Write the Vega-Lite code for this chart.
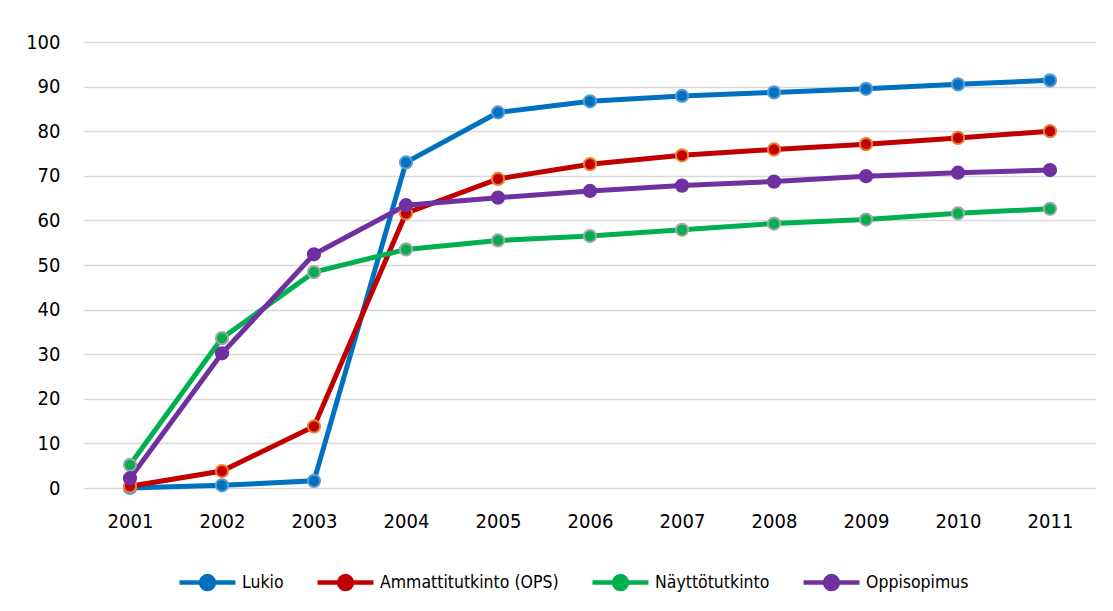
{
  "$schema": "https://vega.github.io/schema/vega-lite/v6.json",
  "width": 1012,
  "height": 446,
  "autosize": "none",
  "padding": {"left": 84, "top": 42, "right": 17, "bottom": 123},
  "background": "white",
  "config": {
    "view": {"stroke": null},
    "font": "DejaVu Sans Condensed",
    "axis": {"labelFont": "DejaVu Sans Condensed", "labelColor": "#000000"},
    "legend": {"labelFont": "DejaVu Sans Condensed"}
  },
  "data": {
    "values": [
      {"year": "2001", "series": "Lukio", "value": 0.0},
      {"year": "2002", "series": "Lukio", "value": 0.6},
      {"year": "2003", "series": "Lukio", "value": 1.6},
      {"year": "2004", "series": "Lukio", "value": 73.0},
      {"year": "2005", "series": "Lukio", "value": 84.2},
      {"year": "2006", "series": "Lukio", "value": 86.7},
      {"year": "2007", "series": "Lukio", "value": 87.9},
      {"year": "2008", "series": "Lukio", "value": 88.7},
      {"year": "2009", "series": "Lukio", "value": 89.5},
      {"year": "2010", "series": "Lukio", "value": 90.5},
      {"year": "2011", "series": "Lukio", "value": 91.4},
      {"year": "2001", "series": "Ammattitutkinto (OPS)", "value": 0.4},
      {"year": "2002", "series": "Ammattitutkinto (OPS)", "value": 3.8},
      {"year": "2003", "series": "Ammattitutkinto (OPS)", "value": 13.8},
      {"year": "2004", "series": "Ammattitutkinto (OPS)", "value": 61.6},
      {"year": "2005", "series": "Ammattitutkinto (OPS)", "value": 69.3},
      {"year": "2006", "series": "Ammattitutkinto (OPS)", "value": 72.6},
      {"year": "2007", "series": "Ammattitutkinto (OPS)", "value": 74.6},
      {"year": "2008", "series": "Ammattitutkinto (OPS)", "value": 75.9},
      {"year": "2009", "series": "Ammattitutkinto (OPS)", "value": 77.1},
      {"year": "2010", "series": "Ammattitutkinto (OPS)", "value": 78.5},
      {"year": "2011", "series": "Ammattitutkinto (OPS)", "value": 80.0},
      {"year": "2001", "series": "Näyttötutkinto", "value": 5.2},
      {"year": "2002", "series": "Näyttötutkinto", "value": 33.6},
      {"year": "2003", "series": "Näyttötutkinto", "value": 48.4},
      {"year": "2004", "series": "Näyttötutkinto", "value": 53.5},
      {"year": "2005", "series": "Näyttötutkinto", "value": 55.5},
      {"year": "2006", "series": "Näyttötutkinto", "value": 56.5},
      {"year": "2007", "series": "Näyttötutkinto", "value": 57.9},
      {"year": "2008", "series": "Näyttötutkinto", "value": 59.3},
      {"year": "2009", "series": "Näyttötutkinto", "value": 60.2},
      {"year": "2010", "series": "Näyttötutkinto", "value": 61.6},
      {"year": "2011", "series": "Näyttötutkinto", "value": 62.6},
      {"year": "2001", "series": "Oppisopimus", "value": 2.2},
      {"year": "2002", "series": "Oppisopimus", "value": 30.2},
      {"year": "2003", "series": "Oppisopimus", "value": 52.4},
      {"year": "2004", "series": "Oppisopimus", "value": 63.4},
      {"year": "2005", "series": "Oppisopimus", "value": 65.1},
      {"year": "2006", "series": "Oppisopimus", "value": 66.6},
      {"year": "2007", "series": "Oppisopimus", "value": 67.8},
      {"year": "2008", "series": "Oppisopimus", "value": 68.7},
      {"year": "2009", "series": "Oppisopimus", "value": 69.9},
      {"year": "2010", "series": "Oppisopimus", "value": 70.7},
      {"year": "2011", "series": "Oppisopimus", "value": 71.3}
    ]
  },
  "encoding": {
    "x": {
      "field": "year",
      "type": "ordinal",
      "scale": {"type": "point", "padding": 0.5},
      "axis": {
        "title": null,
        "labelAngle": 0,
        "labelFontSize": 20,
        "labelPadding": 23,
        "ticks": false,
        "domain": false,
        "grid": false
      }
    },
    "y": {
      "field": "value",
      "type": "quantitative",
      "scale": {"domain": [0, 100], "nice": false},
      "axis": {
        "title": null,
        "values": [0, 10, 20, 30, 40, 50, 60, 70, 80, 90, 100],
        "labelFontSize": 20,
        "labelPadding": 24,
        "ticks": false,
        "domain": false,
        "grid": true,
        "gridColor": "#D9D9D9",
        "gridWidth": 1.5
      }
    }
  },
  "layer": [
    {
      "mark": {"type": "line", "strokeWidth": 5},
      "encoding": {
        "color": {
          "field": "series",
          "type": "nominal",
          "scale": {
            "domain": ["Lukio", "Ammattitutkinto (OPS)", "Näyttötutkinto", "Oppisopimus"],
            "range": ["#0070C0", "#C00000", "#00B050", "#7030A0"]
          },
          "legend": {
            "title": null,
            "orient": "none",
            "legendX": 93,
            "legendY": 510,
            "direction": "horizontal",
            "symbolType": "M-1,0H1M0.23,0A0.23,0.23,0,1,1,-0.23,0A0.23,0.23,0,1,1,0.23,0Z",
            "symbolSize": 3136,
            "symbolStrokeWidth": 4.5,
            "labelFontSize": 17.5,
            "labelLimit": 0,
            "labelColor": "#000000",
            "labelOffset": 4,
            "columnPadding": 24,
            "encode": {
              "symbols": {"update": {"fill": {"scale": "color", "field": "value"}, "fillOpacity": {"value": 1}}}
            }
          }
        },
        "order": {"field": "year"}
      }
    },
    {
      "mark": {"type": "point", "filled": true, "size": 150, "strokeWidth": 2, "opacity": 1},
      "encoding": {
        "fill": {
          "field": "series",
          "type": "nominal",
          "scale": {
            "domain": ["Lukio", "Ammattitutkinto (OPS)", "Näyttötutkinto", "Oppisopimus"],
            "range": ["#0070C0", "#C00000", "#00B050", "#7030A0"]
          },
          "legend": null
        },
        "stroke": {
          "field": "series",
          "type": "nominal",
          "scale": {
            "domain": ["Lukio", "Ammattitutkinto (OPS)", "Näyttötutkinto", "Oppisopimus"],
            "range": ["#5B9BD5", "#ED7D31", "#A5A5A5", "#7030A0"]
          },
          "legend": null
        }
      }
    }
  ]
}
